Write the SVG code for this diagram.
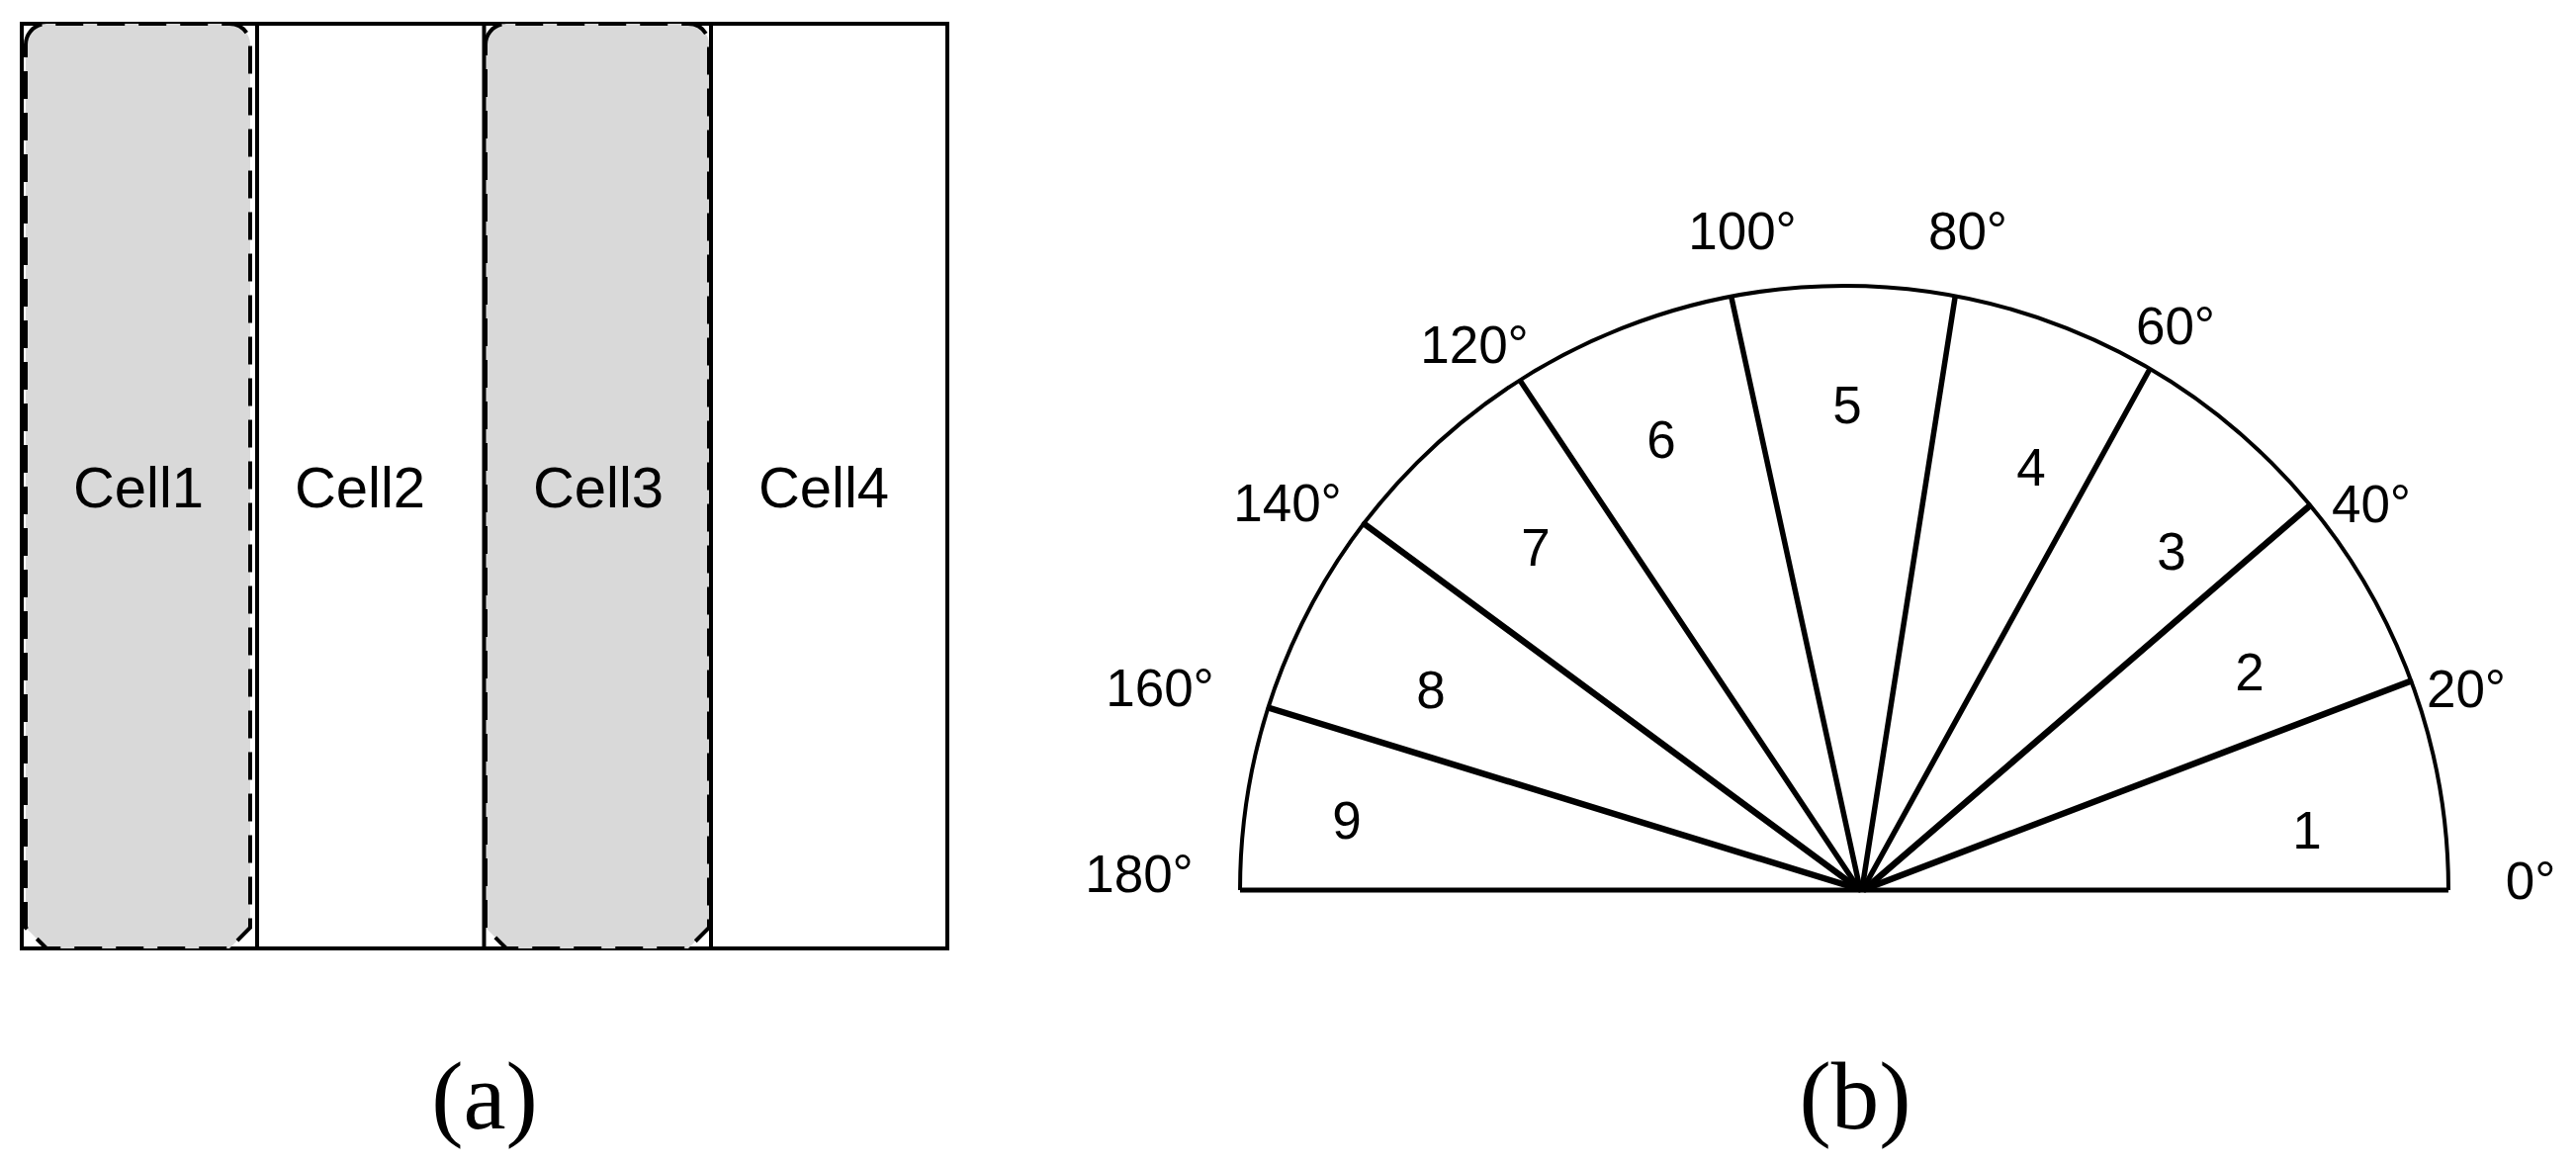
<svg xmlns="http://www.w3.org/2000/svg" width="2605" height="1180" viewBox="0 0 2605 1180">
<style>
.lbl{font-family:"Liberation Sans",Arial,sans-serif;font-size:53px;fill:#000;text-anchor:middle}
.cell{font-family:"Liberation Sans",Arial,sans-serif;font-size:58px;fill:#000;text-anchor:middle}
.cap{font-family:"Liberation Serif","Times New Roman",serif;font-size:97px;fill:#000;text-anchor:middle}
.shade{fill:#d9d9d9;stroke:#000;stroke-width:4;stroke-dasharray:28 14}
.line{stroke:#000;fill:none}
.ray{stroke:#000;stroke-width:5.5;stroke-linecap:round}
.ray.thick{stroke-width:6.5}
</style>
<rect width="2605" height="1180" fill="#fff"/>
<g id="panel-a">
  <rect id="frame" x="22" y="24" width="936" height="935" class="line" stroke-width="4"/>
  <path id="cell1-shade" class="shade" d="M26 45 A21 21 0 0 1 47 24 H232 A21 21 0 0 1 253 45 V938 L232 959 H47 L26 938 Z"/>
  <path id="cell3-shade" class="shade" d="M491 45 A21 21 0 0 1 512 24 H696 A21 21 0 0 1 717 45 V938 L696 959 H512 L491 938 Z"/>
  <g id="dividers" class="line" stroke-width="4">
    <line x1="260" y1="24" x2="260" y2="959"/>
    <line x1="489.5" y1="24" x2="489.5" y2="959"/>
    <line x1="719" y1="24" x2="719" y2="959"/>
  </g>
  <g id="cell1"><text class="cell" x="140" y="513">Cell1</text></g>
  <g id="cell2"><text class="cell" x="364" y="513">Cell2</text></g>
  <g id="cell3"><text class="cell" x="605" y="513">Cell3</text></g>
  <g id="cell4"><text class="cell" x="833" y="513">Cell4</text></g>
  <text class="cap" x="490" y="1141">(a)</text>
</g>
<g id="panel-b">
  <path id="arc" class="line" stroke-width="4" d="M1254 900 A611 611 0 0 1 2476 900"/>
  <line id="base" x1="1254" y1="900" x2="2476" y2="900" stroke="#000" stroke-width="5"/>
  <g id="connectors">
    <line class="ray thick" x1="1886" y1="899" x2="2437" y2="689"/>
    <line class="ray thick" x1="1886" y1="899" x2="2335" y2="512"/>
    <line class="ray" x1="1884" y1="899" x2="2173" y2="375"/>
    <line class="ray" x1="1883" y1="899" x2="1977" y2="301"/>
    <line class="ray" x1="1881" y1="899" x2="1751" y2="301"/>
    <line class="ray" x1="1880" y1="899" x2="1538" y2="386"/>
    <line class="ray thick" x1="1880" y1="899" x2="1380" y2="530"/>
    <line class="ray thick" x1="1880" y1="899" x2="1284" y2="716"/>
  </g>
  <g id="angles">
    <text class="lbl" x="1152" y="902">180°</text>
    <text class="lbl" x="1173" y="714">160°</text>
    <text class="lbl" x="1302" y="527">140°</text>
    <text class="lbl" x="1491" y="367">120°</text>
    <text class="lbl" x="1762" y="252">100°</text>
    <text class="lbl" x="1990" y="252">80°</text>
    <text class="lbl" x="2200" y="348">60°</text>
    <text class="lbl" x="2398" y="528">40°</text>
    <text class="lbl" x="2494" y="715">20°</text>
    <text class="lbl" x="2559" y="909">0°</text>
  </g>
  <g id="sectors">
    <g id="s1"><text class="lbl" x="2333" y="858">1</text></g>
    <g id="s2"><text class="lbl" x="2275" y="698">2</text></g>
    <g id="s3"><text class="lbl" x="2196" y="576">3</text></g>
    <g id="s4"><text class="lbl" x="2054" y="491">4</text></g>
    <g id="s5"><text class="lbl" x="1868" y="428">5</text></g>
    <g id="s6"><text class="lbl" x="1680" y="463">6</text></g>
    <g id="s7"><text class="lbl" x="1553" y="572">7</text></g>
    <g id="s8"><text class="lbl" x="1447" y="716">8</text></g>
    <g id="s9"><text class="lbl" x="1362" y="848">9</text></g>
  </g>
  <text class="cap" x="1876" y="1141">(b)</text>
</g>
</svg>
